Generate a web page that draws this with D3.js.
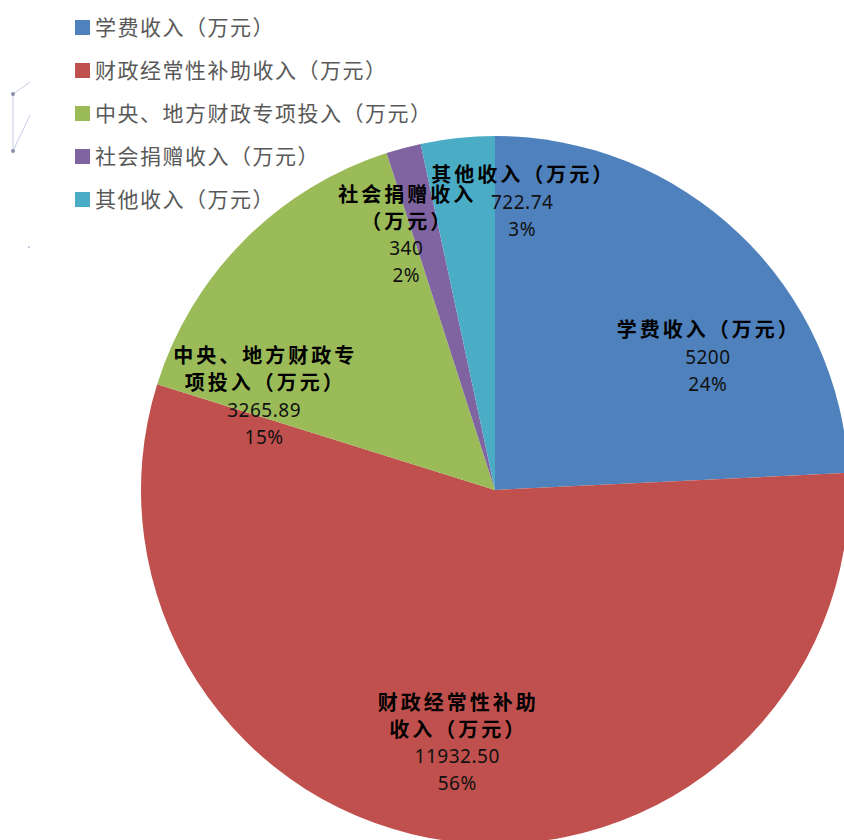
<!DOCTYPE html>
<html>
<head>
<meta charset="utf-8">
<script src="https://cdn.jsdelivr.net/npm/d3@7"></script>
<style>
  body { margin: 0; background: #fff; }
  svg { display: block; }
</style>
</head>
<body>
<svg id="mainFrame" width="844" height="840"></svg>
<script>
const svg = d3.select('#mainFrame');
const width = +svg.attr('width');
const height = +svg.attr('height');

// data
const categories = ['学费收入（万元）', '财政经常性补助收入（万元）', '中央、地方财政专项投入（万元）', '社会捐赠收入（万元）', '其他收入（万元）'];
const values = [5200, 11932.50, 3265.89, 340, 722.74];
const valueLabels = ['5200', '11932.50', '3265.89', '340', '722.74'];
// how the in-slice titles wrap
const labelLines = [
    ['学费收入（万元）'],
    ['财政经常性补助', '收入（万元）'],
    ['中央、地方财政专', '项投入（万元）'],
    ['社会捐赠收入', '（万元）'],
    ['其他收入（万元）']
];
const colors = ['#4F81BD', '#C0504D', '#9BBB59', '#8064A2', '#4BACC6'];

// layout
const cx = 495, cy = 490, radius = 354;
// label block centre as [angle in degrees clockwise from top, distance from centre]
const labelPolar = [[58, 251], [188.5, 256], [292, 249], [340.8, 270], [5.4, 289]];
const lineH = 27;

const total = d3.sum(values);
const data = categories.map((c, i) => ({ name: c, value: values[i], text: valueLabels[i], lines: labelLines[i], color: colors[i], lp: labelPolar[i] }));

const pie = d3.pie().value(d => d.value).sort(null);
const arc = d3.arc().innerRadius(0).outerRadius(radius);

const g = svg.append('g').attr('transform', `translate(${cx},${cy})`);

g.selectAll('path').data(pie(data))
    .enter().append('path')
        .attr('d', arc)
        .attr('fill', d => d.data.color);

// labels
const labels = g.selectAll('g.lbl').data(pie(data))
    .enter().append('g')
        .attr('class', 'lbl')
        .attr('transform', d => {
            const a = d.data.lp[0] * Math.PI / 180, r = d.data.lp[1];
            return `translate(${r * Math.sin(a)},${-r * Math.cos(a)})`;
        });

labels.each(function(d) {
    const sel = d3.select(this);
    const rows = d.data.lines.length + 2;
    const y0 = -(rows - 1) * lineH / 2;
    d.data.lines.forEach((t, k) => {
        sel.append('text')
            .attr('x', 1)
            .attr('y', y0 + k * lineH)
            .attr('dy', '0.35em')
            .attr('text-anchor', 'middle')
            .attr('font-family', '"Noto Sans CJK SC", sans-serif')
            .attr('font-weight', 'bold')
            .attr('font-size', 20)
            .attr('letter-spacing', 3)
            .attr('fill', '#000')
            .text(t);
    });
    const n = d.data.lines.length;
    sel.append('text')
        .attr('y', y0 + n * lineH)
        .attr('dy', '0.35em')
        .attr('text-anchor', 'middle')
        .attr('font-family', '"Noto Sans", sans-serif')
        .attr('font-size', 19)
        .attr('letter-spacing', 0.5)
        .attr('fill', '#111')
        .text(d.data.text);
    sel.append('text')
        .attr('y', y0 + (n + 1) * lineH)
        .attr('dy', '0.35em')
        .attr('text-anchor', 'middle')
        .attr('font-family', '"Noto Sans", sans-serif')
        .attr('font-size', 19)
        .attr('letter-spacing', 0.5)
        .attr('fill', '#111')
        .text(Math.round(d.data.value / total * 100) + '%');
});

// legend
const legend = svg.append('g').attr('transform', 'translate(75,27)');
const item = legend.selectAll('g').data(data)
    .enter().append('g')
        .attr('transform', (d, i) => `translate(0,${i * 43})`);
item.append('rect')
    .attr('x', 0).attr('y', -7)
    .attr('width', 15).attr('height', 15)
    .attr('fill', d => d.color);
item.append('text')
    .attr('x', 20)
    .attr('dy', '0.36em')
    .attr('font-family', '"Noto Sans CJK SC", sans-serif')
    .attr('font-size', 21)
    .attr('letter-spacing', 1.5)
    .attr('fill', '#595959')
    .text(d => d.name);

// faint leftover marks at the left edge of the original
const junk = svg.append('g').attr('stroke', '#c8cde8').attr('stroke-width', 1).attr('fill', 'none');
junk.append('path').attr('d', 'M13,94 L30,82 M13,94 L13,151 L30,115');
svg.append('circle').attr('cx', 13).attr('cy', 94).attr('r', 2).attr('fill', '#8c91a8');
svg.append('circle').attr('cx', 13).attr('cy', 151).attr('r', 2).attr('fill', '#8c91a8');
svg.append('circle').attr('cx', 29).attr('cy', 247).attr('r', 1).attr('fill', '#b8bdd8');
</script>
</body>
</html>
